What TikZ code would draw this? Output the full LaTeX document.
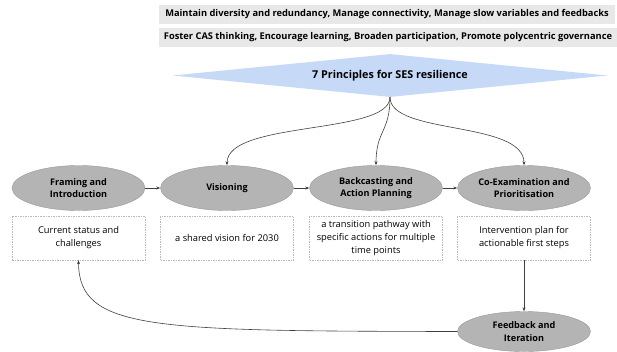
\documentclass[tikz,border=0pt]{standalone}
\usepackage{fontspec}
\setmainfont{Open Sans}
\usetikzlibrary{arrows.meta, positioning, shapes.geometric}

\definecolor{principlebg}{HTML}{E8E8E8}
\definecolor{corebg}{HTML}{C6DAF8}
\definecolor{stagebg}{HTML}{B4B4B4}

\begin{document}
\begin{tikzpicture}[x=1pt, y=-1pt, font=\fontsize{9.3}{13}\selectfont,
    principle/.style={fill=principlebg, minimum height=19pt, inner sep=0pt, font=\fontsize{9.3}{10}\selectfont\bfseries},
    stage/.style={ellipse, fill=stagebg, draw=gray!80, minimum width=133pt, minimum height=45pt, inner sep=0pt, align=center, font=\fontsize{9.1}{12.3}\selectfont\bfseries},
    outcome/.style={draw=gray!55, dash pattern=on 1.5pt off 1pt, minimum width=133pt, minimum height=44pt, inner sep=0pt, align=center},
    flow/.style={-{Stealth[length=4pt, width=3pt]}, draw=black!75, semithick}]
        \useasboundingbox (0,0) rectangle (617,351);
        % principles
        \node[principle, minimum width=456pt] (p1) at (387,14) {Maintain diversity and redundancy, Manage connectivity, Manage slow variables and feedbacks};
        \node[principle, minimum width=458pt] (p2) at (388,37) {Foster CAS thinking, Encourage learning, Broaden participation, Promote polycentric governance};
        \node[diamond, aspect=10, fill=corebg, minimum width=435pt, minimum height=43pt, inner sep=0pt, font=\fontsize{10.8}{12}\selectfont\bfseries] (core) at (390,75.5) {7 Principles for SES resilience};
        % stages
        \node[stage] (frame) at (78.5,188) {Framing and\\Introduction};
        \node[stage] (vis) at (227,188) {Visioning};
        \node[stage] (back) at (376,188) {Backcasting and\\Action Planning};
        \node[stage] (coex) at (524,188) {Co-Examination and\\Prioritisation};
        \node[stage, minimum height=40pt] (fb) at (524,331.5) {Feedback and\\Iteration};
        % outcomes
        \node[outcome] (out1) at (78.5,238) {Current status and\\challenges};
        \node[outcome] (out2) at (227,238) {a shared vision for 2030};
        \node[outcome] (out3) at (376,238) {a transition pathway with\\specific actions for multiple\\time points};
        \node[outcome] (out4) at (524,238) {Intervention plan for\\actionable first steps};
        % connectors
        \draw[flow] (core.south) .. controls +(0,38) and +(0,-45) .. (vis.north);
        \draw[flow] (core.south) .. controls +(0,35) and +(0,-35) .. (back.north);
        \draw[flow] (core.south) .. controls +(0,38) and +(0,-45) .. (coex.north);
        \draw[flow] (frame) -- (vis);
        \draw[flow] (vis) -- (back);
        \draw[flow] (back) -- (coex);
        \draw[flow] (out4.south) -- (fb.north);
        \draw[flow] (fb.west) .. controls (150,331) and (79,330) .. (out1.south);
\end{tikzpicture}
\end{document}
